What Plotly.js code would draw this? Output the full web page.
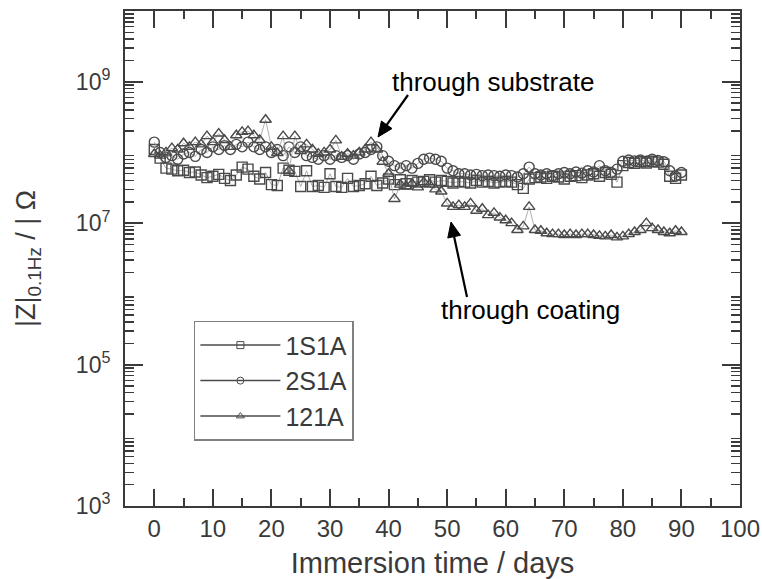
<!DOCTYPE html>
<html><head><meta charset="utf-8">
<script src="https://cdn.plot.ly/plotly-3.0.1.min.js"></script>
<style>html,body{margin:0;padding:0;background:#fff}</style>
</head><body><div id="chart" style="width:762px;height:579px"></div>
<script>
// Immersion time (days)
const days = [0,1,2,3,4,5,6,7,8,9,10,11,12,13,14,15,16,17,18,19,20,21,22,23,24,25,26,27,28,29,30,
  31,32,33,34,35,36,37,38,39,40,41,42,43,44,45,46,47,48,49,50,51,52,53,54,55,56,57,58,59,60,
  61,62,63,64,65,66,67,68,69,70,71,72,73,74,75,76,77,78,79,80,81,82,83,84,85,86,87,88,89,90];

// |Z| at 0.1 Hz (Ohm)
const z1S1A = [11e7,8.3e7,6.0e7,5.8e7,5.5e7,5.6e7,5.2e7,5.3e7,4.8e7,4.4e7,4.6e7,4.9e7,4.3e7,4.0e7,4.8e7,6.2e7,5.8e7,4.6e7,4.2e7,5.2e7,3.5e7,
  3.4e7,6.0e7,5.6e7,5.4e7,3.3e7,5.5e7,3.3e7,3.4e7,3.2e7,5.0e7,3.3e7,3.2e7,4.3e7,3.3e7,3.4e7,3.6e7,4.6e7,3.4e7,3.7e7,4.2e7,
  3.5e7,4.1e7,3.6e7,4.0e7,3.8e7,3.9e7,4.1e7,3.8e7,4.0e7,3.9e7,3.7e7,3.9e7,3.8e7,3.7e7,4.0e7,3.8e7,3.9e7,3.7e7,3.8e7,3.9e7,
  3.8e7,3.5e7,3.1e7,4.2e7,4.4e7,4.5e7,4.3e7,4.6e7,4.5e7,4.2e7,4.6e7,4.7e7,4.4e7,4.8e7,5.0e7,4.6e7,5.2e7,4.9e7,3.8e7,6.5e7,
  7.2e7,7.0e7,7.4e7,7.1e7,7.5e7,7.3e7,6.8e7,4.6e7,4.3e7,4.8e7];
const z2S1A = [14e7,10e7,8.5e7,9.0e7,8.0e7,9.5e7,10e7,8.8e7,11e7,10e7,12e7,11e7,12.5e7,11e7,13e7,12e7,14e7,12e7,11e7,12e7,10e7,
  11e7,9e7,12e7,10e7,12e7,9e7,8.5e7,8e7,9e7,8e7,9e7,8.5e7,9e7,8e7,9.5e7,10e7,11e7,12e7,9e7,7.5e7,
  6.5e7,6e7,6.5e7,6e7,7e7,8e7,8.3e7,8e7,7.5e7,6e7,5.5e7,5e7,5e7,4.8e7,4.9e7,4.7e7,4.8e7,4.7e7,4.6e7,4.8e7,
  4.7e7,4.5e7,5e7,6.2e7,5e7,4.8e7,5e7,4.7e7,5e7,5.2e7,5e7,5.3e7,5.1e7,5.5e7,5.3e7,6.5e7,5.5e7,5.2e7,5.8e7,7.5e7,
  7.8e7,7.6e7,7.8e7,7.5e7,8e7,7.7e7,7.4e7,5.5e7,4.6e7,5.2e7];
const z121A = [9.5e7,9e7,10e7,11.5e7,11e7,13.5e7,12e7,14e7,13e7,17e7,14e7,18.5e7,15e7,12e7,17.5e7,19.5e7,20e7,17.5e7,15e7,29e7,12e7,
  9.8e7,17e7,5.5e7,17e7,10.5e7,13e7,11e7,9.6e7,10e7,11e7,14.8e7,8.7e7,9.6e7,9e7,10e7,11e7,14e7,11e7,7.4e7,5e7,
  2.2e7,3.5e7,3.3e7,3.6e7,3.2e7,3.8e7,3.5e7,3.0e7,2.8e7,1.9e7,1.7e7,1.8e7,1.7e7,1.9e7,1.5e7,1.6e7,1.3e7,1.4e7,1.2e7,1.1e7,
  1.0e7,0.8e7,0.9e7,1.7e7,0.8e7,0.78e7,0.72e7,0.7e7,0.7e7,0.68e7,0.7e7,0.68e7,0.7e7,0.7e7,0.68e7,0.66e7,0.65e7,0.68e7,0.63e7,0.65e7,
  0.7e7,0.75e7,0.8e7,1.0e7,0.85e7,0.8e7,0.75e7,0.72e7,0.78e7,0.75e7];

const seriesNames = ['1S1A','2S1A','121A'];
const xTickVals = [0,10,20,30,40,50,60,70,80,90,100];
const yLabelVals = [1e3,1e5,1e7,1e9];
const yLabelText = ['10<sup>3</sup>','10<sup>5</sup>','10<sup>7</sup>','10<sup>9</sup>'];
const yUnlabelledDecades = [1e4,1e6,1e8,1e10];

const yMinor = [];
for (let d = 3; d < 10; d++) for (let k = 2; k <= 9; k++) yMinor.push(k * Math.pow(10, d));

const font = 'Liberation Sans, Arial, sans-serif';
const ink = '#3a3a3a';
const symbols = ['square-open','circle-open','triangle-up-open'];
const series = [z1S1A, z2S1A, z121A];

const data = [];
series.forEach((y, i) => data.push({
  x: days, y: y, name: seriesNames[i], type: 'scatter', mode: 'lines+markers', showlegend: false,
  line: {color: '#9a9a9a', width: 0.8},
  marker: {symbol: symbols[i], size: 10, color: '#4a4a4a', line: {color: '#4a4a4a', width: 1.4}}
}));
// legend entries (small symbols as in the reference)
series.forEach((y, i) => data.push({
  x: [null], y: [null], name: seriesNames[i], type: 'scatter', mode: 'lines+markers',
  legendgroup: 'g' + i, showlegend: true,
  line: {color: '#4a4a4a', width: 1.5},
  marker: {symbol: symbols[i], size: 7, color: '#4a4a4a', line: {color: '#4a4a4a', width: 1}}
}));

// plot-area geometry (pixels) for arrow shapes
const L = 125, R = 22, T = 11, B = 73, W = 762, H = 579;
const PW = W - L - R, PH = H - T - B;
const px = (x) => (x - L) / PW;
const py = (y) => (H - B - y) / PH;
function arrow(tx, ty, hx, hy) {
  const dx = hx - tx, dy = hy - ty, len = Math.hypot(dx, dy);
  const ux = dx / len, uy = dy / len, hl = 15, hw = 6.5;
  const bx = hx - hl * ux, by = hy - hl * uy;
  const c1 = [bx + hw * uy, by - hw * ux], c2 = [bx - hw * uy, by + hw * ux];
  return [
    {type: 'line', xref: 'paper', yref: 'paper', x0: px(tx), y0: py(ty), x1: px(bx), y1: py(by),
     line: {color: '#000', width: 2.2}},
    {type: 'path', xref: 'paper', yref: 'paper', fillcolor: '#000', line: {color: '#000', width: 1},
     path: `M ${px(hx)},${py(hy)} L ${px(c1[0])},${py(c1[1])} L ${px(c2[0])},${py(c2[1])} Z`}
  ];
}

const axisCommon = {
  showline: true, mirror: 'ticks', linecolor: ink, linewidth: 2,
  ticks: 'inside', tickcolor: ink, tickwidth: 2, showgrid: false, zeroline: false,
  tickfont: {family: font, size: 24, color: ink}
};
const layout = {
  width: W, height: H,
  margin: {l: L, r: R, t: T, b: B},
  paper_bgcolor: '#fff', plot_bgcolor: '#fff',
  showlegend: true,
  xaxis: Object.assign({}, axisCommon, {
    range: [-5, 100], tickvals: xTickVals, ticklen: 17,
    minor: {dtick: 5, tick0: 0, ticks: 'inside', ticklen: 8, tickcolor: ink, tickwidth: 2},
    title: {text: 'Immersion time / days\u00a0\u00a0', font: {family: font, size: 29, color: ink}, standoff: 12}
  }),
  yaxis: Object.assign({}, axisCommon, {
    type: 'log', range: [3, 10], tickvals: yLabelVals, ticktext: yLabelText, ticklen: 18,
    ticklabelstandoff: 8,
    minor: {tickvals: yMinor, ticks: 'inside', ticklen: 9, tickcolor: ink, tickwidth: 1.5},
    tickfont: {family: font, size: 23, color: ink},
    title: {text: '|Z|<sub>0.1Hz</sub> / | Ω\u00a0\u00a0\u00a0', font: {family: font, size: 27, color: ink}, standoff: 32}
  }),
  yaxis2: {
    overlaying: 'y', side: 'left', type: 'log', range: [3, 10],
    tickvals: yUnlabelledDecades, showticklabels: false,
    ticks: 'inside', ticklen: 18, tickwidth: 2, tickcolor: ink,
    showline: true, linecolor: ink, linewidth: 2, mirror: 'ticks',
    showgrid: false, zeroline: false
  },
  legend: {
    x: 0.112, y: 0.374, xanchor: 'left', yanchor: 'top',
    bgcolor: '#fff', bordercolor: '#808080', borderwidth: 1.5,
    font: {family: font, size: 25, color: ink},
    tracegroupgap: 0, itemwidth: 80, entrywidth: 72
  },
  shapes: [].concat(arrow(408, 95, 378, 137), arrow(467, 297, 451, 222)),
  annotations: [
    {xref: 'x', yref: 'y', x: 57.8, y: 8.99, text: 'through substrate', showarrow: false,
     font: {family: font, size: 26, color: '#000'}},
    {xref: 'x', yref: 'y', x: 64.2, y: 5.77, text: 'through coating', showarrow: false,
     font: {family: font, size: 26, color: '#000'}}
  ]
};
Plotly.newPlot('chart', data, layout, {displayModeBar: false, staticPlot: true});
</script></body></html>
